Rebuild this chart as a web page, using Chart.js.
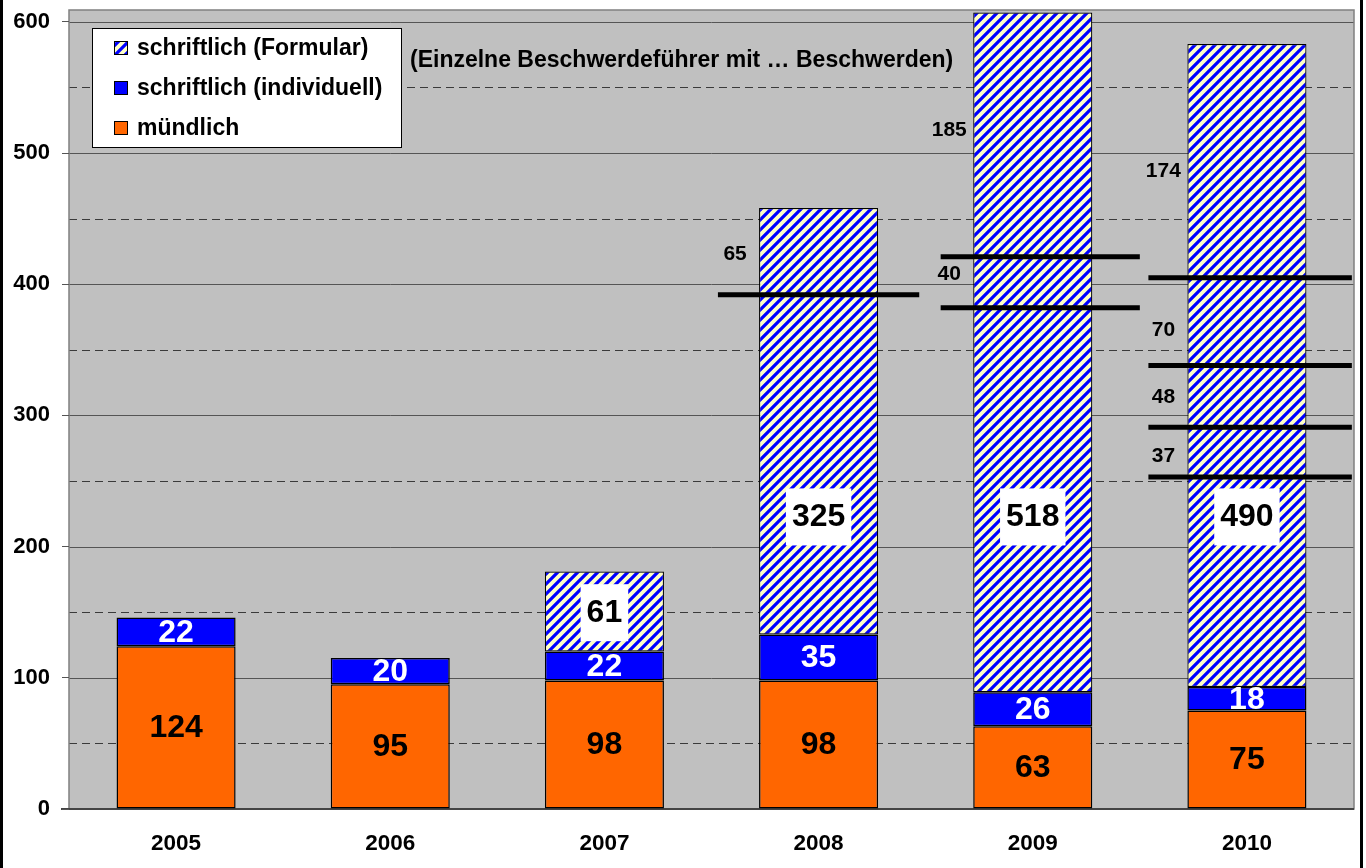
<!DOCTYPE html>
<html>
<head>
<meta charset="utf-8">
<script src="https://cdn.jsdelivr.net/npm/chart.js@4"></script>
<style>
  html, body { margin: 0; padding: 0; background: #fff; }
  canvas { display: block; }
</style>
</head>
<body>
<canvas id="chart" width="1366" height="868"></canvas>
<script>
// data
const years = ['2005', '2006', '2007', '2008', '2009', '2010'];
const muendlich = [124, 95, 98, 98, 63, 75];
const individuell = [22, 20, 22, 35, 26, 18];
const formular = [null, null, 61, 325, 518, 490];
const formularLabelAt = [null, null, 150, 223, 223, 223];

const seriesNames = ['schriftlich (Formular)', 'schriftlich (individuell)', 'mündlich'];
const title = '(Einzelne Beschwerdeführer mit \u2026 Beschwerden)';

const yTicks = [0, 100, 200, 300, 400, 500, 600];
const yMin = 0, yMax = 609;

// black split lines inside the Formular bars (x in category units)
const splitValue = [392, 421, 382, 405, 338, 291, 253];
const splitFrom = [2.53, 3.57, 3.57, 4.54, 4.54, 4.54, 4.54];
const splitTo = [3.47, 4.50, 4.50, 5.49, 5.49, 5.49, 5.49];

// numbers written next to those parts
const partText = ['65', '185', '40', '174', '70', '48', '37'];
const partYear = [3, 4, 4, 5, 5, 5, 5];
const partAt = [423, 517, 408, 486, 365, 314, 269];

const FONT = "'Liberation Sans', Arial, sans-serif";
Chart.defaults.font.family = FONT;

function makeHatch() {
    const c = document.createElement('canvas');
    c.width = 10; c.height = 10;
    const g = c.getContext('2d');
    g.fillStyle = '#FFFFC6';
    g.fillRect(0, 0, 10, 10);
    g.strokeStyle = '#0000FF';
    g.lineWidth = 3.2;
    g.beginPath();
    g.moveTo(-5, 5); g.lineTo(5, -5);
    g.moveTo(0, 10); g.lineTo(10, 0);
    g.moveTo(5, 15); g.lineTo(15, 5);
    g.stroke();
    return g.createPattern(c, 'repeat');
}
const hatch = makeHatch();

// background, grid and frame of the plot area
const plotBack = {
    id: 'plotBack',
    beforeDraw(chart) {
        const {ctx, chartArea: a, scales: {y}} = chart;
        ctx.save();
        ctx.fillStyle = '#C0C0C0';
        ctx.fillRect(a.left, a.top, a.right - a.left, a.bottom - a.top);
        ctx.strokeStyle = '#3a3a3a';
        ctx.lineWidth = 1;
        ctx.setLineDash([8, 5]);
        for (let k = 0; k < yTicks.length - 1; k++) {
            const py = Math.round(y.getPixelForValue((yTicks[k] + yTicks[k + 1]) / 2)) + 0.5;
            ctx.beginPath(); ctx.moveTo(a.left, py); ctx.lineTo(a.right, py); ctx.stroke();
        }
        ctx.setLineDash([]);
        ctx.strokeStyle = '#555';
        yTicks.slice(1).forEach(v => {
            const py = Math.round(y.getPixelForValue(v)) + 0.5;
            ctx.beginPath(); ctx.moveTo(a.left, py); ctx.lineTo(a.right, py); ctx.stroke();
        });
        ctx.strokeStyle = '#808080';
        ctx.lineWidth = 1.5;
        ctx.strokeRect(a.left, a.top, a.right - a.left, a.bottom - a.top);
        ctx.strokeStyle = '#444';
        ctx.lineWidth = 2;
        ctx.beginPath(); ctx.moveTo(a.left - 8, a.bottom); ctx.lineTo(a.right, a.bottom); ctx.stroke();
        ctx.restore();
    }
};

// split lines, labels on bars and parts, legend, title, outer frame
const overlay = {
    id: 'overlay',
    afterDatasetsDraw(chart) {
        const {ctx, scales: {x, y}} = chart;
        ctx.save();

        ctx.strokeStyle = '#000';
        ctx.lineWidth = 5;
        splitValue.forEach((v, i) => {
            const py = y.getPixelForValue(v);
            ctx.beginPath();
            ctx.moveTo(x.getPixelForValue(splitFrom[i]), py);
            ctx.lineTo(x.getPixelForValue(splitTo[i]), py);
            ctx.stroke();
        });

        ctx.textAlign = 'center';
        ctx.textBaseline = 'middle';
        const mMeta = chart.getDatasetMeta(0);
        const iMeta = chart.getDatasetMeta(1);
        const fMeta = chart.getDatasetMeta(2);

        ctx.font = 'bold 32px ' + FONT;
        mMeta.data.forEach((el, i) => {
            ctx.fillStyle = '#000';
            ctx.fillText(String(muendlich[i]), el.x, (el.y + el.base) / 2 + 1);
        });
        iMeta.data.forEach((el, i) => {
            ctx.fillStyle = '#fff';
            ctx.fillText(String(individuell[i]), el.x, (el.y + el.base) / 2 + 1);
        });
        fMeta.data.forEach((el, i) => {
            if (formular[i] == null) return;
            const txt = String(formular[i]);
            const cy = y.getPixelForValue(formularLabelAt[i]);
            const w = ctx.measureText(txt).width + 12;
            ctx.fillStyle = '#fff';
            ctx.fillRect(el.x - w / 2, cy - 28, w, 57);
            ctx.fillStyle = '#000';
            ctx.fillText(txt, el.x, cy + 1);
        });

        ctx.font = 'bold 21px ' + FONT;
        ctx.fillStyle = '#000';
        partText.forEach((t, i) => {
            ctx.fillText(t, x.getPixelForValue(partYear[i] - 0.39), y.getPixelForValue(partAt[i]));
        });
        ctx.restore();
    },
    afterDraw(chart) {
        const {ctx} = chart;
        ctx.save();
        // legend box
        ctx.fillStyle = '#fff';
        ctx.fillRect(92, 28, 309, 119);
        ctx.strokeStyle = '#000';
        ctx.lineWidth = 1;
        ctx.strokeRect(92.5, 28.5, 309, 119);
        const fills = [hatch, '#0000FF', '#FF6600'];
        ctx.font = 'bold 23px ' + FONT;
        ctx.textAlign = 'left';
        ctx.textBaseline = 'middle';
        seriesNames.forEach((n, i) => {
            const cy = 48 + i * 40;
            ctx.fillStyle = fills[i];
            ctx.fillRect(114, cy - 7, 14, 14);
            ctx.strokeRect(114.5, cy - 6.5, 13, 13);
            ctx.fillStyle = '#000';
            ctx.fillText(n, 137, cy + 1);
        });
        // note at the top
        ctx.font = 'bold 23px ' + FONT;
        ctx.fillText(title, 410, 61);
        // outer frame sides
        ctx.fillStyle = '#000';
        ctx.fillRect(0, 0, 3, 868);
        ctx.fillRect(1360, 0, 3, 868);
        ctx.restore();
    }
};

new Chart(document.getElementById('chart'), {
    type: 'bar',
    data: {
        labels: years,
        datasets: [
            {
                label: seriesNames[2], data: muendlich, backgroundColor: '#FF6600',
                borderColor: '#000', borderWidth: 1.5, borderSkipped: false
            },
            {
                label: seriesNames[1], data: individuell, backgroundColor: '#0000FF',
                borderColor: '#000', borderWidth: 1.5, borderSkipped: false
            },
            {
                label: seriesNames[0], data: formular, backgroundColor: hatch,
                borderColor: '#000', borderWidth: 1.2, borderSkipped: false
            }
        ]
    },
    options: {
        responsive: false,
        animation: false,
        devicePixelRatio: 1,
        layout: {padding: {left: 0, right: 12, top: 10, bottom: 0}},
        datasets: {bar: {categoryPercentage: 1, barPercentage: 0.556, grouped: false}},
        plugins: {legend: {display: false}, tooltip: {enabled: false}},
        scales: {
            x: {
                stacked: true,
                grid: {display: false, drawTicks: false},
                border: {display: false},
                ticks: {color: '#000', font: {size: 22.5, weight: 'bold'}, padding: 21, maxRotation: 0},
                afterFit: s => { s.height = 59; s.paddingLeft = 0; s.paddingRight = 0; }
            },
            y: {
                stacked: true,
                min: yMin,
                max: yMax,
                border: {display: false},
                grid: {drawOnChartArea: false, drawTicks: true, tickLength: 7, color: '#555'},
                ticks: {autoSkip: false, color: '#000', font: {size: 22, weight: 'bold'}, padding: 12},
                afterBuildTicks: s => { s.ticks = yTicks.map(v => ({value: v})); },
                afterFit: s => { s.width = 69; s.paddingTop = 0; s.paddingBottom = 0; }
            }
        }
    },
    plugins: [plotBack, overlay]
});
</script>
</body>
</html>
